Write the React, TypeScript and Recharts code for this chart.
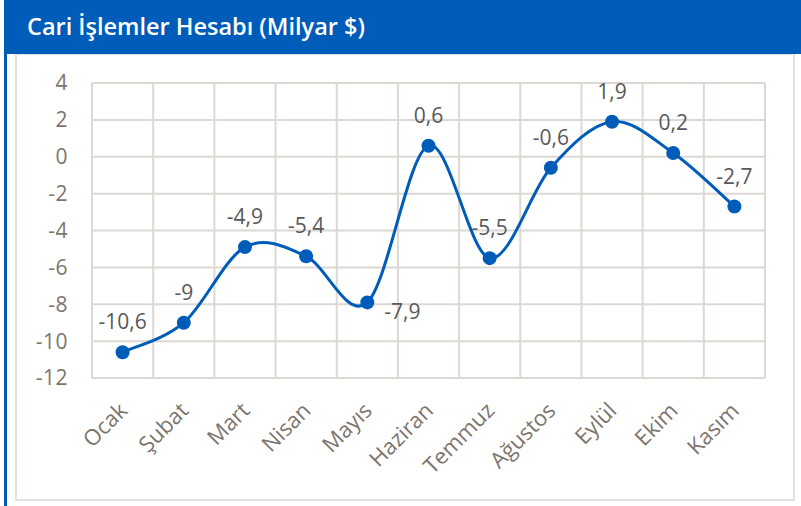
import { LineChart, Line, XAxis, YAxis, CartesianGrid, LabelList } from 'recharts';

const months = ['Ocak', 'Şubat', 'Mart', 'Nisan', 'Mayıs', 'Haziran', 'Temmuz', 'Ağustos', 'Eylül', 'Ekim', 'Kasım'];
const balance = [-10.6, -9, -4.9, -5.4, -7.9, 0.6, -5.5, -0.6, 1.9, 0.2, -2.7];
const yTicks = [-12, -10, -8, -6, -4, -2, 0, 2, 4];
// where each data label sits relative to its point
const labelSide = ['top', 'top', 'top', 'top', 'right', 'top', 'top', 'top', 'top', 'top', 'top'];

const data = months.map((m, i) => ({ month: m, value: balance[i] }));

const BLUE = '#005cb9';
const TICK = '#7d756d';
const FONT = '"Open Sans", "Noto Sans", sans-serif';

// Excel style smoothing (Catmull-Rom through the points)
function excelSmooth(context: any) {
    let pts: number[][] = [];
    return {
        areaStart() {},
        areaEnd() {},
        lineStart() {
            pts = [];
        },
        point(x: number, y: number) {
            pts.push([+x, +y]);
        },
        lineEnd() {
            if (!pts.length) return;
            context.moveTo(pts[0][0], pts[0][1]);
            for (let i = 0; i < pts.length - 1; i++) {
                const p0 = pts[i - 1] || pts[i];
                const p1 = pts[i];
                const p2 = pts[i + 1];
                const p3 = pts[i + 2] || p2;
                context.bezierCurveTo(
                    p1[0] + (p2[0] - p0[0]) / 6,
                    p1[1] + (p2[1] - p0[1]) / 6,
                    p2[0] - (p3[0] - p1[0]) / 6,
                    p2[1] - (p3[1] - p1[1]) / 6,
                    p2[0],
                    p2[1]
                );
            }
        },
    };
}

const fmt = (v: number) => String(v).replace('.', ',');

const MonthTick = ({ x, y, payload }: any) => {
    const ax = x + 6;
    const ay = y + 26;
    return (
        <text
            x={ax}
            y={ay}
            textAnchor="end"
            fill={TICK}
            fontSize={22}
            fontFamily={FONT}
            transform={`rotate(-45 ${ax} ${ay})`}
        >
            {payload.value}
        </text>
    );
};

const PointLabel = ({ x, y, value, index }: any) => {
    const side = labelSide[index];
    if (side === 'right') {
        return (
            <text x={x + 17} y={y + 17} fill="#595959" fontSize={21} fontFamily={FONT} textAnchor="start">
                {fmt(value)}
            </text>
        );
    }
    return (
        <text x={x} y={y - 23} fill="#595959" fontSize={21} fontFamily={FONT} textAnchor="middle">
            {fmt(value)}
        </text>
    );
};

export default function App() {
    return (
        <div style={{ position: 'absolute', left: 0, top: 0, width: 801, height: 506, background: '#fff', overflow: 'hidden' }}>
            <div style={{ position: 'absolute', left: 4, top: 0, width: 3, height: 506, background: BLUE }} />
            <div
                style={{
                    position: 'absolute',
                    left: 15,
                    top: 53,
                    width: 776,
                    height: 444,
                    border: '2px solid #e3e0dd',
                    background: '#fff',
                }}
            />
            <div
                style={{
                    position: 'absolute',
                    left: 7,
                    top: 0,
                    width: 794,
                    height: 54,
                    background: BLUE,
                    color: '#fff',
                    fontFamily: FONT,
                    fontWeight: 600,
                    fontSize: 23.5,
                    lineHeight: '52px',
                    paddingLeft: 20,
                    boxSizing: 'border-box',
                }}
            >
                Cari İşlemler Hesabı (Milyar $)
            </div>
            <div style={{ position: 'absolute', left: 0, top: 0 }}>
                <LineChart width={801} height={506} data={data} margin={{ top: 83, right: 36, bottom: 38, left: 32 }}>
                    <CartesianGrid
                        stroke="#dcd8d4"
                        strokeWidth={2}
                        verticalCoordinatesGenerator={({ offset }: any) =>
                            months.concat(['']).map((_, i) => offset.left + (i * offset.width) / months.length)
                        }
                    />
                    <XAxis
                        dataKey="month"
                        axisLine={false}
                        tickLine={false}
                        interval={0}
                        height={90}
                        padding={{ left: 30.6, right: 30.6 }}
                        tick={<MonthTick />}
                    />
                    <YAxis
                        domain={[-12, 4]}
                        ticks={yTicks}
                        axisLine={false}
                        tickLine={false}
                        tickSize={0}
                        tickMargin={24}
                        width={60}
                        tick={{ fill: TICK, fontSize: 21, fontFamily: FONT, letterSpacing: 0.5 }}
                    />
                    <Line
                        dataKey="value"
                        type={excelSmooth as any}
                        stroke={BLUE}
                        strokeWidth={3}
                        dot={{ r: 7, fill: BLUE, stroke: BLUE, strokeWidth: 0 }}
                        isAnimationActive={false}
                    >
                        <LabelList dataKey="value" content={<PointLabel />} />
                    </Line>
                </LineChart>
            </div>
        </div>
    );
}
